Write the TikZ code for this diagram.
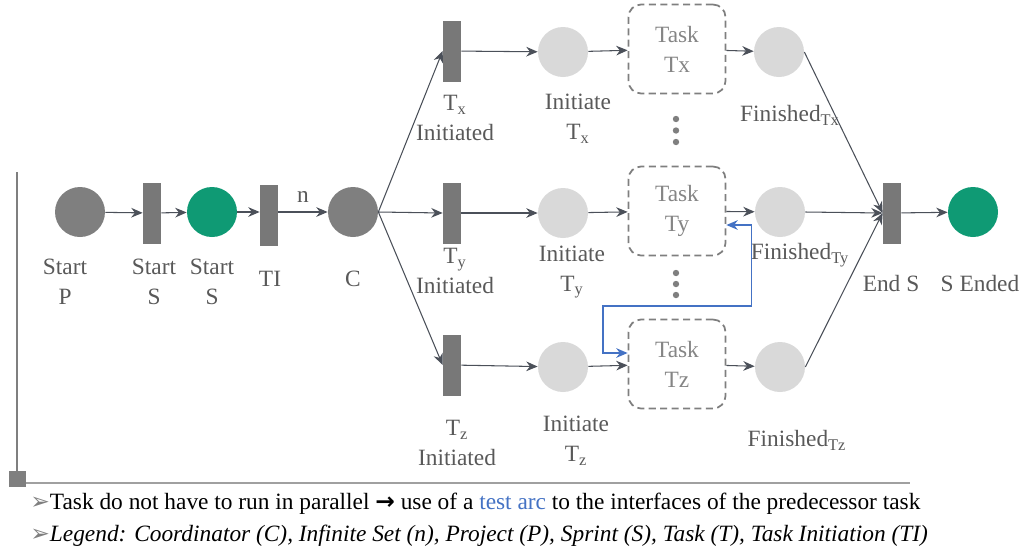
\documentclass[tikz,border=0pt]{standalone}
\usepackage{fontspec}
\setmainfont{Liberation Serif}
\newfontfamily\symfont{DejaVu Sans}
\usetikzlibrary{arrows.meta, calc}
\definecolor{darkplace}{HTML}{7F7F7F}
\definecolor{greenplace}{HTML}{0F9A74}
\definecolor{lightplace}{HTML}{D9D9D9}
\definecolor{transgray}{HTML}{787878}
\definecolor{arcgray}{HTML}{4B5059}
\definecolor{lblgray}{HTML}{595959}
\definecolor{taskgray}{HTML}{858585}
\definecolor{dashgray}{HTML}{7F7F7F}
\definecolor{testblue}{HTML}{4472C4}
\definecolor{framegray}{HTML}{A0A0A0}
\tikzset{
>={Stealth[length=6.5pt,width=5.5pt]},
netplace/.style={circle, inner sep=0pt, minimum size=1cm},
nettrans/.style={rectangle, fill=transgray, inner sep=0pt, minimum width=0.36cm, minimum height=1.22cm},
task/.style={rectangle, rounded corners=0.25cm, draw=dashgray, line width=1pt, dash pattern=on 4pt off 2.5pt, minimum width=1.94cm, minimum height=1.78cm, align=center, text=taskgray, font=\fontsize{13.3}{17}\selectfont},
netarc/.style={->, draw=arcgray, line width=0.6pt},
testarc/.style={<->, draw=testblue, line width=0.8pt},
lbl/.style={align=center, text=lblgray, inner sep=0pt, font=\fontsize{13.3}{17}\selectfont},
}
\begin{document}
\begin{tikzpicture}[x=0.02cm, y=-0.02cm]
    \useasboundingbox (0,0) rectangle (1021,549);
    % frame
    \draw[darkplace, line width=1.5pt] (17,172) -- (17,479);
    \draw[framegray, line width=1.5pt] (17,483) -- (910,483);
    \fill[darkplace] (8.5,471) rectangle (25.5,487);
    % main row
    \node[netplace, fill=darkplace] (startp) at (80,212) {};
    \node[nettrans] (starts) at (152,213) {};
    \node[netplace, fill=greenplace] (startsp) at (212,212) {};
    \node[nettrans] (ti) at (269,215) {};
    \node[netplace, fill=darkplace] (c) at (353,212) {};
    \node[lbl] (lblp) at (65,282) {Start\\P};
    \node[lbl] (lbls) at (154,282) {Start\\S};
    \node[lbl] (lblsp) at (212,282) {Start\\S};
    \node[lbl] (lblti) at (270,279) {TI};
    \node[lbl] (lblc) at (353,279) {C};
    % task x
    \node[nettrans] (tx) at (452,51) {};
    \node[netplace, fill=lightplace] (ix) at (563,52) {};
    \node[task] (taskx) at (677,49) {Task\\Tx};
    \node[netplace, fill=lightplace] (fx) at (779,52) {};
    \node[lbl] (lbltx) at (455,118) {T\textsubscript{x}\\Initiated};
    \node[lbl] (lblix) at (578,119) {Initiate\\T\textsubscript{x}};
    \node[lbl] (lblfx) at (790,115) {Finished\textsubscript{Tx}};
    % task y
    \node[nettrans] (ty) at (452,213) {};
    \node[netplace, fill=lightplace] (iy) at (563,213) {};
    \node[task] (tasky) at (677,211) {Task\\Ty};
    \node[netplace, fill=lightplace] (fy) at (780,212) {};
    \node[lbl] (lblty) at (455,271) {T\textsubscript{y}\\Initiated};
    \node[lbl] (lbliy) at (572,272) {Initiate\\T\textsubscript{y}};
    \node[lbl] (lblfy) at (800,255) {Finished\textsubscript{Ty}};
    % task z
    \node[nettrans] (tz) at (452,365) {};
    \node[netplace, fill=lightplace] (iz) at (563,367) {};
    \node[task] (taskz) at (677,364) {Task\\Tz};
    \node[netplace, fill=lightplace] (fz) at (780,367) {};
    \node[lbl] (lbltz) at (457,443) {T\textsubscript{z}\\Initiated};
    \node[lbl] (lbliz) at (576,441) {Initiate\\T\textsubscript{z}};
    \node[lbl] (lblfz) at (797,440) {Finished\textsubscript{Tz}};
    % end
    \node[nettrans] (ends) at (892,213) {};
    \node[netplace, fill=greenplace] (sended) at (973,212) {};
    \node[lbl] (lblends) at (891,283) {End S};
    \node[lbl] (lblsended) at (980,283) {S Ended};
    % dots
    \foreach \y in {119,130.5,142} \fill[darkplace] (676,\y) circle (3.2);
    \foreach \y in {273,284,295} \fill[darkplace] (676,\y) circle (3.2);
    % arcs
    \draw[netarc] (startp) -- (starts);
    \draw[netarc] (starts) -- (startsp);
    \draw[netarc] (startsp) -- (ti.west |- startsp);
    \draw[netarc] (ti.east |- c) -- node[lbl, above=5pt] (lbln) {n} (c);
    \draw[netarc] (c.east) -- (tx.west);
    \draw[netarc] (c.east) -- (ty.west);
    \draw[netarc] (c.east) -- (tz.west);
    \foreach \t/\i/\k/\f in {tx/ix/taskx/fx, ty/iy/tasky/fy, tz/iz/taskz/fz} {
      \draw[netarc] (\t) -- (\i);
      \draw[netarc] (\i) -- (\k);
      \draw[netarc] (\k) -- (\f);
      \draw[netarc] (\f.east) -- (ends.west);
    }
    \draw[netarc] (ends) -- (sended);
    % test arc
    \draw[testarc] ([yshift=-0.28cm]tasky.east) -- ++(25,0) |- (603,306) |- ([yshift=0.22cm]taskz.west);
    % notes
    \node[anchor=base west, inner sep=0pt, font=\fontsize{13.3}{17}\selectfont] (note1) at (30,509)
      {{\symfont\color{darkplace}➢}Task do not have to run in parallel {\symfont\bfseries →} use of a \textcolor{testblue}{test arc} to the interfaces of the predecessor task};
    \node[anchor=base west, inner sep=0pt, font=\fontsize{13.3}{17}\selectfont] (note2) at (30,541)
      {{\symfont\color{darkplace}➢}\textit{Legend: Coordinator (C), Infinite Set (n), Project (P), Sprint (S), Task (T), Task Initiation (TI)}};
\end{tikzpicture}
\end{document}
